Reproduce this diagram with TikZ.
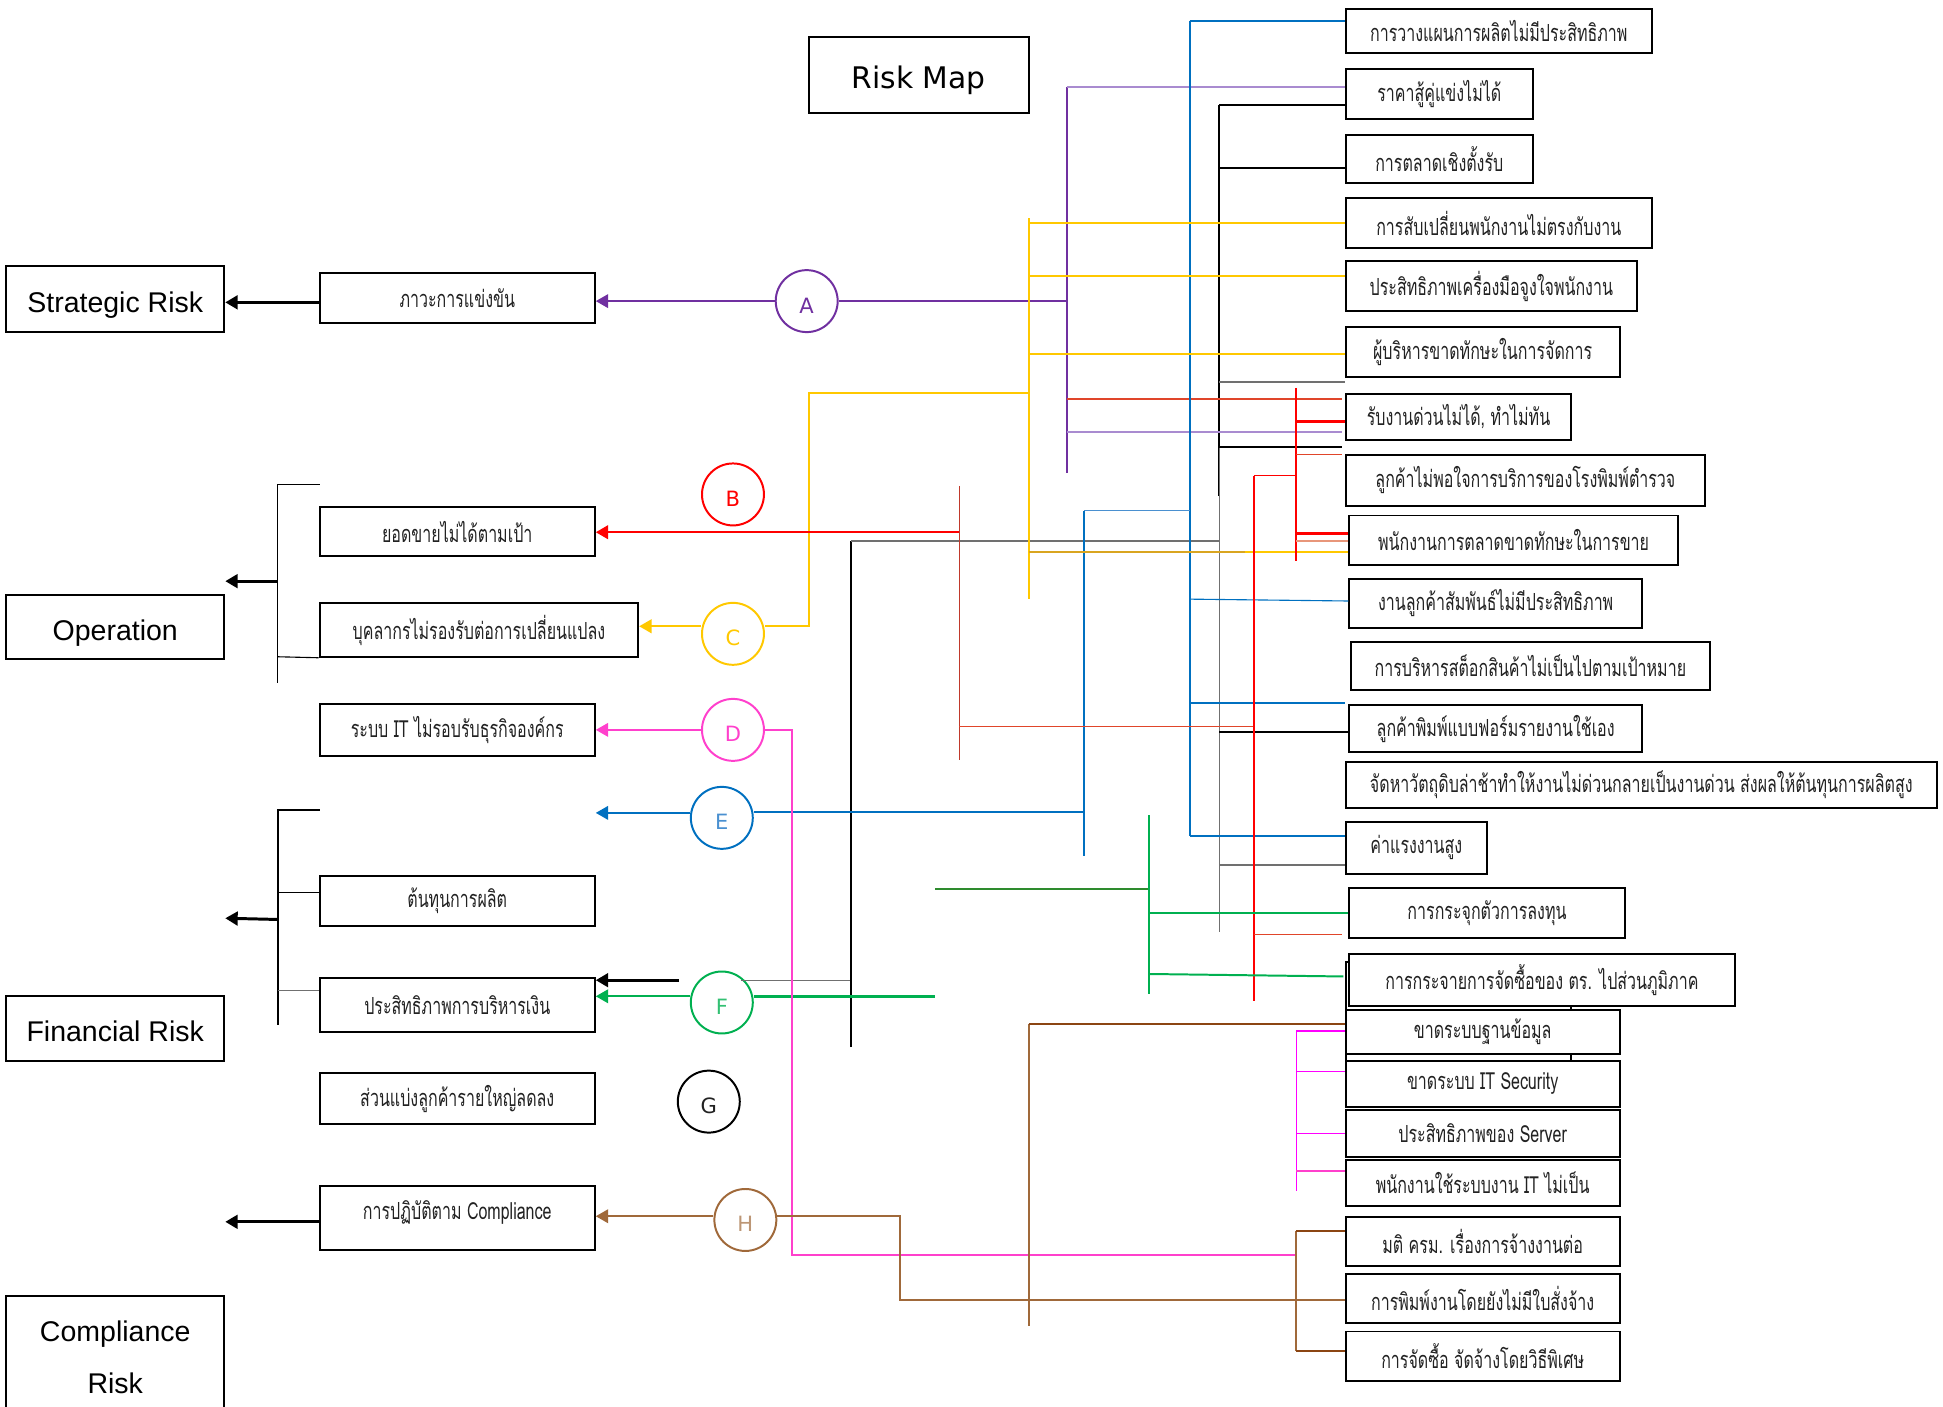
\documentclass[tikz,border=0pt]{standalone}
\usepackage{fontspec}
\setmainfont{Liberation Sans}
\newfontfamily\thaifont[Script=Thai,FakeStretch=0.68]{Loma}
\newfontfamily\dejafont{DejaVu Sans}
\usetikzlibrary{arrows.meta}
\definecolor{cpurple}{HTML}{7030A0}
\definecolor{cpurpleL}{HTML}{A98BD0}
\definecolor{cblue}{HTML}{0070C0}
\definecolor{cblueL}{HTML}{4A90D0}
\definecolor{cyellow}{HTML}{FFC800}
\definecolor{cgold}{HTML}{D9A520}
\definecolor{cred}{HTML}{FF0000}
\definecolor{corange}{HTML}{E0452A}
\definecolor{cdred}{HTML}{C0392B}
\definecolor{csalmon}{HTML}{E8967A}
\definecolor{cgreen}{HTML}{00B050}
\definecolor{cdgreen}{HTML}{2E8B2E}
\definecolor{cpink}{HTML}{FF40CC}
\definecolor{cmag}{HTML}{FF00FF}
\definecolor{cbrown}{HTML}{A0693A}
\definecolor{cdbrown}{HTML}{8B4513}
\definecolor{cgray}{HTML}{707070}
\definecolor{ctext}{HTML}{222222}
\begin{document}
\begin{tikzpicture}[x=0.5pt,y=-0.5pt,
  box/.style={draw, line width=0.8pt, inner sep=0pt, fill=white, text=ctext},
  cat/.style={box, text=black, font=\fontsize{11.5}{14}\selectfont},
  catone/.style={cat, text height=10.7pt, text depth=0pt},
  tbox/.style={box, font=\thaifont\fontsize{9.5}{11}\selectfont},
  circ/.style={circle, draw, line width=0.8pt, minimum size=25pt, inner sep=0pt, text height=9.7pt, text depth=0pt, font=\dejafont\fontsize{8.5}{10}\selectfont},
  conn/.style={line width=0.8pt},
  thinl/.style={line width=0.45pt},
  heavy/.style={line width=1.2pt},
  arrowed/.style={-{Triangle[length=5pt,width=5.5pt]}}]
\useasboundingbox (0,0) rectangle (1568,1135);

% ---------- category boxes ----------
\node[catone, minimum width=88pt, minimum height=26.5pt] (SR) at (93,241.5) {Strategic Risk};
\node[catone, minimum width=88pt, minimum height=26pt] (OP) at (93,506) {Operation};
\node[catone, minimum width=88pt, minimum height=26pt] (FR) at (93,830) {Financial Risk};
\node[cat, minimum width=88pt, minimum height=49.5pt, align=center] (CR) at (93,1095.5) {Compliance\\[7pt]Risk};
\node[box, text=black, minimum width=88.5pt, minimum height=30.5pt, text height=11.3pt, text depth=0pt, font=\dejafont\fontsize{12}{14}\selectfont] (TT) at (741.5,60.5) {Risk Map};

% ---------- middle boxes ----------
\node[tbox, minimum width=111pt, minimum height=20.5pt] (M1) at (369,240.5) {ภาวะการแข่งขัน};
\node[tbox, minimum width=111pt, minimum height=20pt] (M2) at (369,429) {ยอดขายไม่ได้ตามเป้า};
\node[tbox, minimum width=128.5pt, minimum height=21.5pt] (M3) at (386.5,508.5) {บุคลากรไม่รองรับต่อการเปลี่ยนแปลง};
\node[tbox, minimum width=111pt, minimum height=21pt] (M4) at (369,589) {ระบบ IT ไม่รอบรับธุรกิจองค์กร};
\node[tbox, minimum width=111pt, minimum height=20pt] (M6) at (369,727) {ต้นทุนการผลิต};
\node[tbox, minimum width=111pt, minimum height=22pt] (M7) at (369,811) {ประสิทธิภาพการบริหารเงิน};
\node[tbox, minimum width=111pt, minimum height=20.5pt] (M8) at (369,886.5) {ส่วนแบ่งลูกค้ารายใหญ่ลดลง};
\node[tbox, minimum width=111pt, minimum height=26pt, text height=6pt, text depth=4.8pt] (M9) at (369,983) {การปฏิบัติตาม Compliance};

% ---------- circles ----------
\node[circ, draw=cpurple, text=cpurple] (cA) at (651,243) {A};
\node[circ, draw=cred, text=cred] (cB) at (591.5,399) {B};
\node[circ, draw=cyellow, text=cyellow] (cC) at (591.5,511.5) {C};
\node[circ, draw=cpink, text=cpink] (cD) at (591.5,589) {D};
\node[circ, draw=cblue, text=cblueL] (cE) at (582.5,660) {E};
\node[circ, draw=cgreen, text=cgreen!80] (cF) at (582.5,809) {F};
\node[circ, draw=black, text=ctext] (cG) at (572,889) {G};
\node[circ, draw=cbrown, text=cbrown!70] (cH) at (601.5,984.5) {H};

% ---------- right boxes ----------
\node[tbox, minimum width=123.5pt, minimum height=18pt] (R1) at (1209.5,25) {การวางแผนการผลิตไม่มีประสิทธิภาพ};
\node[tbox, minimum width=75.5pt, minimum height=20pt] (R2) at (1161.5,76) {ราคาสู้คู่แข่งไม่ได้};
\node[tbox, minimum width=75.5pt, minimum height=19.5pt] (R3) at (1161.5,128.5) {การตลาดเชิงตั้งรับ};
\node[tbox, minimum width=123.5pt, minimum height=20pt] (R4) at (1209.5,180) {การสับเปลี่ยนพนักงานไม่ตรงกับงาน};
\node[tbox, minimum width=117.5pt, minimum height=20pt] (R5) at (1203.5,231) {ประสิทธิภาพเครื่องมือจูงใจพนักงาน};
\node[tbox, minimum width=110.5pt, minimum height=20pt] (R6) at (1196.5,284) {ผู้บริหารขาดทักษะในการจัดการ};
\node[tbox, minimum width=91pt, minimum height=18.5pt] (R7) at (1177,336.5) {รับงานด่วนไม่ได้, ทำไม่ทัน};
\node[tbox, minimum width=145pt, minimum height=20.5pt] (R8) at (1231,387.5) {ลูกค้าไม่พอใจการบริการของโรงพิมพ์ตำรวจ};
\node[tbox, minimum width=132.5pt, minimum height=20pt] (R9) at (1221.5,436) {พนักงานการตลาดขาดทักษะในการขาย};
\node[tbox, minimum width=118pt, minimum height=20pt] (R10) at (1207,487) {งานลูกค้าสัมพันธ์ไม่มีประสิทธิภาพ};
\node[tbox, minimum width=145pt, minimum height=19.5pt] (R11) at (1235,537.5) {การบริหารสต็อกสินค้าไม่เป็นไปตามเป้าหมาย};
\node[tbox, minimum width=118pt, minimum height=19pt] (R12) at (1207,588) {ลูกค้าพิมพ์แบบฟอร์มรายงานใช้เอง};
\node[tbox, minimum width=238.5pt, minimum height=18.5pt] (R13) at (1324.5,633.5) {จัดหาวัตถุดิบล่าช้าทำให้งานไม่ด่วนกลายเป็นงานด่วน ส่งผลให้ต้นทุนการผลิตสูง};
\node[tbox, minimum width=57pt, minimum height=21pt] (R14) at (1143,684) {ค่าแรงงานสูง};
\node[tbox, minimum width=111pt, minimum height=20pt] (R15) at (1200,737) {การกระจุกตัวการลงทุน};
\node[box, minimum width=91pt, minimum height=40.5pt] (RB) at (1177,816.5) {};
\node[tbox, minimum width=155.7pt, minimum height=21pt] (R16) at (1244.3,791) {การกระจายการจัดซื้อของ ตร. ไปส่วนภูมิภาค};
\node[tbox, minimum width=110.5pt, minimum height=17.8pt] (R17) at (1196.5,833) {ขาดระบบฐานข้อมูล};
\node[tbox, minimum width=110.5pt, minimum height=18.5pt] (R18) at (1196.5,874.7) {ขาดระบบ IT Security};
\node[tbox, minimum width=110.5pt, minimum height=19pt] (R19) at (1196.5,914.7) {ประสิทธิภาพของ Server};
\node[tbox, minimum width=110.5pt, minimum height=18.5pt] (R20) at (1196.5,954.5) {พนักงานใช้ระบบงาน IT ไม่เป็น};
\node[tbox, minimum width=110.5pt, minimum height=19.75pt] (R21) at (1196.5,1002) {มติ ครม. เรื่องการจ้างงานต่อ};
\node[tbox, minimum width=110.5pt, minimum height=19.75pt] (R22) at (1196.5,1048) {การพิมพ์งานโดยยังไม่มีใบสั่งจ้าง};
\node[tbox, minimum width=110.5pt, minimum height=20pt] (R23) at (1196.5,1094.5) {การจัดซื้อ จัดจ้างโดยวิธีพิเศษ};

% ---------- junction coordinates ----------
\coordinate (opT) at (224,391); \coordinate (opTe) at (258,391);
\coordinate (opB) at (224,551); \coordinate (opA) at (224,469); \coordinate (opM) at (224,530);
\coordinate (fiT) at (224,654); \coordinate (fiTe) at (258,654);
\coordinate (fiB) at (224,827); \coordinate (fiA) at (224,742);
\coordinate (fi1) at (224,720); \coordinate (fi2) at (224,799);
\coordinate (bkT) at (984,84.5); \coordinate (bkM) at (984,400);
\coordinate (gyT) at (984,360); \coordinate (gyB) at (984,752);
\coordinate (bk1) at (984,135.8); \coordinate (bk2) at (984,308); \coordinate (bk2e) at (1085,308);
\coordinate (bk3) at (984,360.7); \coordinate (bk3e) at (1083,360.7);
\coordinate (bk4) at (984,590.5); \coordinate (bk5) at (984,698); \coordinate (bk6) at (984,436.6);
\coordinate (gL) at (687,436.6); \coordinate (gLB) at (687,845); \coordinate (gF) at (687,791);
\coordinate (gFe) at (598,791); \coordinate (bkArr) at (548,791);
\coordinate (puT) at (861,70.5); \coordinate (puB) at (861,381.4); \coordinate (puA) at (861,243);
\coordinate (pu2) at (861,349); \coordinate (pu2e) at (1083,349);
\coordinate (or1) at (861,322); \coordinate (or1e) at (1083,322);
\coordinate (blT) at (960,17); \coordinate (blB) at (960,675); \coordinate (bl2) at (960,483.5);
\coordinate (bl3) at (960,567); \coordinate (bl3e) at (1085,567);
\coordinate (blE1) at (875,412); \coordinate (blE2) at (960,412); \coordinate (blEB) at (875,691);
\coordinate (blE) at (875,655);
\coordinate (yeT) at (830,176); \coordinate (yeB) at (830,483.4);
\coordinate (ye1) at (830,179.7); \coordinate (ye2) at (830,222.7); \coordinate (ye3) at (830,286);
\coordinate (ye4) at (830,317); \coordinate (ye5) at (830,445.5); \coordinate (ye6) at (1005,445.5);
\coordinate (yeC1) at (653,317); \coordinate (yeC2) at (653,505.4);
\coordinate (rdA) at (774,429.5); \coordinate (rdT) at (774,392); \coordinate (rdB) at (774,613);
\coordinate (rdH) at (774,586.6);
\coordinate (rd2T) at (1012,383.8); \coordinate (rd2B) at (1012,808); \coordinate (rd2H) at (1012,586.6);
\coordinate (rd3T) at (1046,313); \coordinate (rd3B) at (1046,452.7); \coordinate (rd3J) at (1046,383.8);
\coordinate (rd31) at (1046,340); \coordinate (rd32) at (1046,367); \coordinate (rd32e) at (1083,367);
\coordinate (rd33) at (1046,430.7); \coordinate (rd34) at (1046,436.6);
\coordinate (rd2L) at (1012,753.8); \coordinate (rd2Le) at (1083,753.8);
\coordinate (grF) at (754.6,804); \coordinate (grT) at (927,657.7); \coordinate (grB) at (927,802);
\coordinate (grL) at (927,717.4); \coordinate (grLe) at (754.6,717.4);
\coordinate (gr1) at (927,736.7); \coordinate (gr2) at (927,786); \coordinate (gr2e) at (1084,788);
\coordinate (pkB) at (639.4,1012.8); \coordinate (pkE) at (1046,1012.8);
\coordinate (mgT) at (1046,832); \coordinate (mgB) at (1046,961);
\coordinate (mg2) at (1046,865); \coordinate (mg3) at (1046,914.6); \coordinate (mg4) at (1046,945);
\coordinate (brH1) at (726.3,981.5); \coordinate (brH2) at (726.3,1049.4);
\coordinate (brT) at (830,826.3); \coordinate (brB) at (830,1070);
\coordinate (br2T) at (1046,993.4); \coordinate (br2B) at (1046,1090);

% ---------- black connectors ----------
\draw[heavy, arrowed] (M1.west |- 0,244) -- (SR.east |- 0,244);
\draw[thinl] (opTe) -- (opT) -- (opB);
\draw[thinl] (opM) -- (M3.south west);
\draw[heavy, arrowed] (opA) -- (OP.east |- opA);
\draw[conn] (fiTe) -- (fiT) -- (fiB);
\draw[thinl] (fi1) -- (M6.west |- fi1);
\draw[thinl, cgray] (fi2) -- (M7.west |- fi2);
\draw[heavy, arrowed] (fiA) -- (FR.east |- 0,741);
\draw[heavy, arrowed] (M9.west |- 0,986) -- (CR.east |- 0,986);
\draw[heavy, arrowed] (bkArr) -- (M7.east |- bkArr);
\draw[thinl, cgray] (gFe) -- (gF);
\draw[conn] (gLB) -- (gL);
\draw[conn, cgray] (gL) -- (bk6);
\draw[conn] (bkT) -- (bkM);
\draw[thinl, cgray] (gyT) -- (gyB);
\draw[conn] (bkT) -- (R2.west |- bkT);
\draw[conn] (bk1) -- (R3.west |- bk1);
\draw[conn, cgray] (bk2) -- (bk2e);
\draw[conn] (bk3) -- (bk3e);
\draw[conn] (bk4) -- (R12.west |- bk4);
\draw[conn, cgray] (bk5) -- (R14.west |- bk5);

% ---------- purple (A) ----------
\draw[conn, cpurple] (puT) -- (puB);
\draw[conn, cpurple] (cA.east) -- (puA);
\draw[conn, cpurple, arrowed] (cA.west) -- (M1.east |- cA.west);
\draw[conn, cpurpleL] (puT) -- (R2.west |- puT);
\draw[conn, cpurpleL] (pu2) -- (pu2e);
\draw[thinl, corange] (or1) -- (or1e);

% ---------- blue (E) ----------
\draw[conn, cblue] (blT) -- (blB);
\draw[conn, cblue] (blT) -- (R1.west |- blT);
\draw[thinl, cblue] (bl2) -- (R10.west |- 0,485);
\draw[conn, cblue] (bl3) -- (bl3e);
\draw[conn, cblue] (blB) -- (R14.west |- blB);
\draw[thinl, cblueL] (blE2) -- (blE1);
\draw[conn, cblue] (blE1) -- (blEB);
\draw[conn, cblue] (cE.east |- blE) -- (blE);
\draw[conn, cblue, arrowed] (cE.west |- 0,656) -- (M4.east |- 0,656);

% ---------- yellow (C) ----------
\draw[conn, cyellow] (yeT) -- (yeB);
\draw[conn, cyellow] (ye1) -- (R4.west |- ye1);
\draw[conn, cyellow] (ye2) -- (R5.west |- ye2);
\draw[conn, cyellow] (ye3) -- (R6.west |- ye3);
\draw[thinl, cgold] (ye5) -- (ye6);
\draw[conn, cyellow] (ye6) -- (R9.west |- ye5);
\draw[conn, cyellow] (cC.east |- yeC2) -- (yeC2) -- (yeC1) -- (ye4);
\draw[conn, cyellow, arrowed] (cC.west |- yeC2) -- (M3.east |- yeC2);

% ---------- red (B) ----------
\draw[conn, cred, line width=1pt, arrowed] (rdA) -- (M2.east |- rdA);
\draw[thinl, cdred] (rdT) -- (rdB);
\draw[thinl, corange] (rdH) -- (rd2H);
\draw[conn, cred] (rd2T) -- (rd2B);
\draw[thinl, cred] (rd2T) -- (rd3J);
\draw[conn, cred] (rd3T) -- (rd3B);
\draw[conn, cred, line width=1pt] (rd31) -- (R7.west |- rd31);
\draw[thinl, corange] (rd32) -- (rd32e);
\draw[conn, cred, line width=1pt] (rd33) -- (R9.west |- rd33);
\draw[conn, csalmon] (rd34) -- (R9.west |- rd34);
\draw[thinl, corange] (rd2L) -- (rd2Le);

% ---------- green (F) ----------
\draw[conn, cgreen, line width=1pt] (cF.east |- grF) -- (grF);
\draw[conn, cgreen, arrowed] (cF.west |- grF) -- (M7.east |- grF);
\draw[thinl, cdgreen] (grLe) -- (grL);
\draw[conn, cgreen] (grT) -- (grB);
\draw[conn, cgreen] (gr1) -- (R15.west |- gr1);
\draw[conn, cgreen] (gr2) -- (gr2e);

% ---------- magenta (D) ----------
\draw[conn, cpink] (cD.east) -| (pkB) -- (pkE);
\draw[conn, cpink, arrowed] (cD.west) -- (M4.east |- cD.west);
\draw[thinl, cmag] (mgT) -- (mgB);
\draw[thinl, cmag] (mgT) -- (mgT -| R17.west);
\draw[thinl, cmag] (mg2) -- (mg2 -| R17.west);
\draw[thinl, cmag] (mg3) -- (mg3 -| R17.west);
\draw[conn, cpink] (mg4) -- (mg4 -| R17.west);

% ---------- brown (H) ----------
\draw[conn, cbrown] (cH.east |- brH1) -- (brH1) -- (brH2) -- (R22.west |- brH2);
\draw[conn, cbrown, arrowed] (cH.west |- brH1) -- (M9.east |- brH1);
\draw[conn, cbrown] (brB) -- (brT);
\draw[conn, cdbrown] (brT) -- (R17.west |- brT);
\draw[conn, cbrown] (br2T) -- (br2B);
\draw[conn, cdbrown] (br2T) -- (R21.west |- br2T);
\draw[conn, cdbrown] (br2B) -- (R23.west |- br2B);
\end{tikzpicture}
\end{document}
